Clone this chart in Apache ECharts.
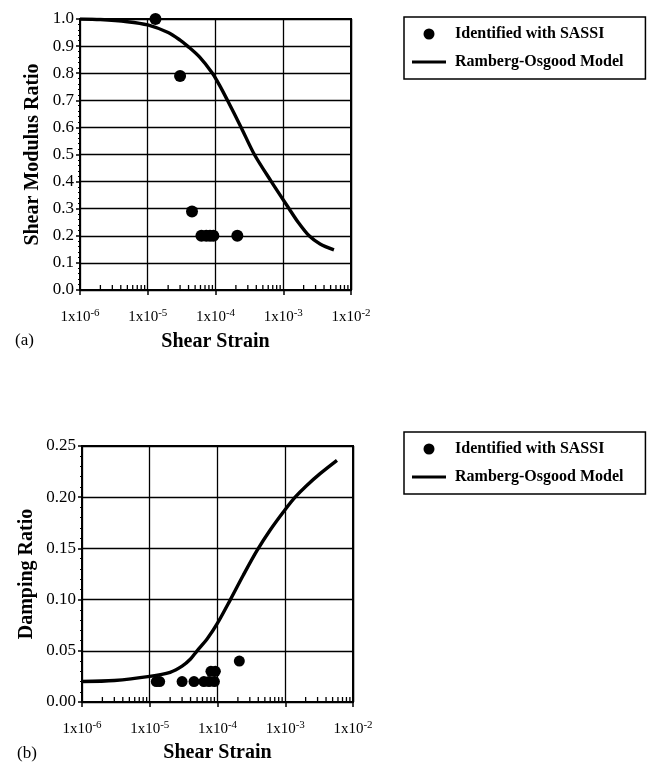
<!DOCTYPE html>
<html>
<head>
<meta charset="utf-8">
<script src="https://cdn.jsdelivr.net/npm/echarts@6/dist/echarts.min.js"></script>
<style>
  html, body { margin: 0; padding: 0; background: #fff; }
  #main { width: 651px; height: 764px; }
</style>
</head>
<body>
<div id="main"></div>
<script>
// data
var sassiStrain = [1.3e-5, 3.0e-5, 4.5e-5, 6.2e-5, 7.3e-5, 8.3e-5, 9.3e-5, 2.1e-4];
var sassiModulus = [1.0, 0.79, 0.29, 0.2, 0.2, 0.2, 0.2, 0.2];

var dampStrain = [1.25e-5, 1.4e-5, 3.0e-5, 4.5e-5, 6.3e-5, 7.5e-5, 8.0e-5, 9.0e-5, 9.3e-5, 2.1e-4];
var dampSassi = [0.02, 0.02, 0.02, 0.02, 0.02, 0.02, 0.03, 0.02, 0.03, 0.04];

var modelStrainG = [1e-6, 2e-6, 5e-6, 1e-5, 2e-5, 3e-5, 3.87e-5, 5.8e-5, 9.0e-5, 1.15e-4, 1.5e-4, 2.39e-4, 3.75e-4, 6.67e-4, 1.22e-3, 1.66e-3, 2.41e-3, 3.5e-3, 5.6e-3];
var modelModulus = [1.0, 0.998, 0.99, 0.978, 0.95, 0.922, 0.9, 0.86, 0.8, 0.755, 0.7, 0.6, 0.5, 0.4, 0.3, 0.25, 0.2, 0.17, 0.148];

var modelStrainD = [1e-6, 3e-6, 1e-5, 2e-5, 3e-5, 4e-5, 5e-5, 7.1e-5, 1e-4, 1.55e-4, 2.41e-4, 3.84e-4, 6e-4, 1e-3, 1.4e-3, 2.04e-3, 3.27e-3, 5.8e-3];
var modelDamping = [0.02, 0.021, 0.025, 0.029, 0.035, 0.042, 0.05, 0.062, 0.077, 0.1, 0.124, 0.148, 0.168, 0.188, 0.2, 0.211, 0.223, 0.236];

var decades = [1e-6, 1e-5, 1e-4, 1e-3];
var minorSteps = [2, 3, 4, 5, 6, 7, 8, 9];

var SERIF = "'Liberation Serif', 'DejaVu Serif', serif";
var NAME_POINTS = "Identified with SASSI";
var NAME_MODEL = "Ramberg-Osgood Model";

function zip(xs, ys) {
  return xs.map(function (x, i) { return [x, ys[i]]; });
}

// minor tick positions of the log axis (2..9 in every decade)
var minorTicks = [];
decades.forEach(function (d) {
  minorSteps.forEach(function (m) { minorTicks.push([d * m, 0]); });
});

var chartDom = document.getElementById("main");
var myChart = echarts.init(chartDom);

function xAxisOf(gridIndex, labelMargin, nameGap) {
  return {
    type: "log",
    logBase: 10,
    gridIndex: gridIndex,
    min: 1e-6,
    max: 1e-2,
    interval: 1,
    name: "Shear Strain",
    nameLocation: "middle",
    nameGap: nameGap,
    nameTextStyle: { fontFamily: SERIF, fontWeight: "bold", fontSize: 20, color: "#000" },
    axisLine: { onZero: false, lineStyle: { color: "#000", width: 2 } },
    axisTick: { show: true, length: 5, lineStyle: { color: "#000", width: 1.5 } },
    splitLine: { show: true, lineStyle: { color: "#000", width: 1.3 } },
    axisLabel: {
      margin: labelMargin,
      color: "#000",
      formatter: function (v) {
        var e = Math.round(Math.log10(v));
        return "{b|1x10}{s|" + e + "}";
      },
      rich: {
        b: { fontFamily: SERIF, fontSize: 15, lineHeight: 18, color: "#000" },
        s: { fontFamily: SERIF, fontSize: 11, lineHeight: 10, verticalAlign: "top", color: "#000" },
      },
    },
  };
}

function yAxisOf(gridIndex, name, max, interval, digits, nameGap) {
  return {
    type: "value",
    gridIndex: gridIndex,
    min: 0,
    max: max,
    interval: interval,
    name: name,
    nameLocation: "middle",
    nameGap: nameGap,
    nameTextStyle: { fontFamily: SERIF, fontWeight: "bold", fontSize: 20, color: "#000" },
    axisLine: { show: true, lineStyle: { color: "#000", width: 2 } },
    axisTick: { show: true, length: 4, lineStyle: { color: "#000", width: 1.5 } },
    minorTick: { show: true, splitNumber: 5, length: 2, lineStyle: { color: "#000", width: 1 } },
    splitLine: { show: true, lineStyle: { color: "#000", width: 1.3 } },
    axisLabel: {
      margin: 6,
      fontFamily: SERIF,
      fontSize: 17,
      color: "#000",
      formatter: function (v) { return v.toFixed(digits); },
    },
  };
}

function legendOf(top) {
  return {
    left: 404,
    top: top,
    orient: "vertical",
    padding: [9, 22, 9, 8],
    itemWidth: 34,
    itemHeight: 11,
    itemGap: 12,
    borderColor: "#000",
    borderWidth: 1.5,
    borderRadius: 0,
    data: [
      { name: NAME_POINTS, icon: "circle" },
      { name: NAME_MODEL, icon: "path://M0,0L34,0L34,3.2L0,3.2Z" },
    ],
    textStyle: { fontFamily: SERIF, fontWeight: "bold", fontSize: 16, color: "#000", padding: [0, 0, 0, 4] },
  };
}

function pointsOf(idx, data, size) {
  return {
    name: NAME_POINTS,
    type: "scatter",
    xAxisIndex: idx,
    yAxisIndex: idx,
    symbol: "circle",
    symbolSize: size,
    itemStyle: { color: "#000", opacity: 1 },
    data: data,
    z: 5,
  };
}

function modelOf(idx, data) {
  return {
    name: NAME_MODEL,
    type: "line",
    xAxisIndex: idx,
    yAxisIndex: idx,
    smooth: 0.3,
    symbol: "none",
    lineStyle: { color: "#000", width: 3.4 },
    itemStyle: { color: "#000" },
    data: data,
    z: 4,
  };
}

function ticksOf(idx) {
  return {
    type: "scatter",
    xAxisIndex: idx,
    yAxisIndex: idx,
    silent: true,
    symbol: "rect",
    symbolSize: [1.3, 5],
    symbolOffset: [0, -2.5],
    itemStyle: { color: "#000", opacity: 1 },
    data: minorTicks,
    z: 6,
  };
}

var option = {
  animation: false,
  backgroundColor: "#fff",
  grid: [
    { left: 80, top: 19, width: 271, height: 271, show: true, borderColor: "#000", borderWidth: 2, backgroundColor: "transparent" },
    { left: 82, top: 446, width: 271, height: 259, show: true, borderColor: "#000", borderWidth: 2, backgroundColor: "transparent" },
  ],
  xAxis: [xAxisOf(0, 18, 42), xAxisOf(1, 18, 41)],
  yAxis: [
    yAxisOf(0, "Shear Modulus Ratio", 1, 0.1, 1, 37),
    yAxisOf(1, "Damping Ratio", 0.25, 0.05, 2, 45),
  ],
  legend: [legendOf(17), legendOf(432)],
  graphic: [
    { type: "text", left: 15, top: 332, style: { text: "(a)", font: "17px " + SERIF, fill: "#000" } },
    { type: "text", left: 17, top: 745, style: { text: "(b)", font: "17px " + SERIF, fill: "#000" } },
  ],
  series: [
    modelOf(0, zip(modelStrainG, modelModulus)),
    pointsOf(0, zip(sassiStrain, sassiModulus), 12),
    ticksOf(0),
    modelOf(1, zip(modelStrainD, modelDamping)),
    pointsOf(1, zip(dampStrain, dampSassi), 11),
    ticksOf(1),
  ],
};

option && myChart.setOption(option);
</script>
</body>
</html>
